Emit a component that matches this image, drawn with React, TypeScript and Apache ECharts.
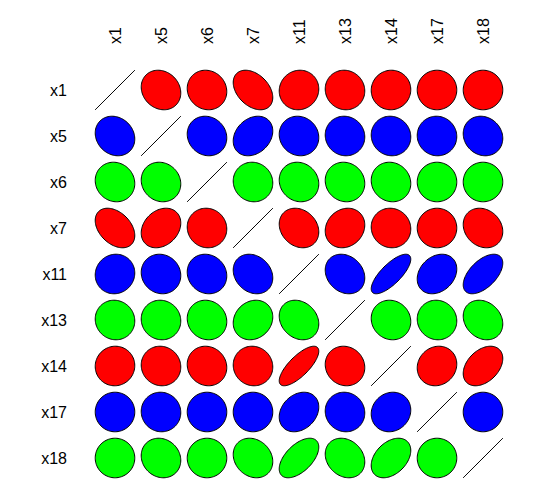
import React, { useEffect, useRef } from "react";
import * as echarts from "echarts";

const varNames = ["x1", "x5", "x6", "x7", "x11", "x13", "x14", "x17", "x18"];
const rowColors = ["#FF0000", "#0000FF", "#00FF00"];

// correlation matrix rows (symmetric)
const rowX1 = [1, -0.15, -0.08, -0.38, 0.05, -0.05, 0.02, 0.0, 0.0];
const rowX5 = [-0.15, 1, -0.1, 0.25, -0.08, -0.05, -0.05, -0.03, -0.12];
const rowX6 = [-0.08, -0.1, 1, -0.05, -0.1, -0.08, -0.08, 0.0, 0.0];
const rowX7 = [-0.38, 0.25, -0.05, 1, -0.2, 0.15, -0.05, 0.0, -0.18];
const rowX11 = [0.05, -0.08, -0.1, -0.2, 1, -0.2, 0.75, 0.25, 0.55];
const rowX13 = [-0.05, -0.05, -0.08, 0.15, -0.2, 1, -0.08, -0.05, -0.2];
const rowX14 = [0.02, -0.05, -0.08, -0.05, 0.75, -0.08, 1, 0.1, 0.38];
const rowX17 = [0.0, -0.03, 0.0, 0.0, 0.25, -0.05, 0.1, 1, 0.0];
const rowX18 = [0.0, -0.12, 0.0, -0.18, 0.55, -0.2, 0.38, 0.0, 1];

const corrRows = [rowX1, rowX5, rowX6, rowX7, rowX11, rowX13, rowX14, rowX17, rowX18];

export default function App() {
  const ref = useRef<HTMLDivElement>(null);
  useEffect(() => {
    if (!ref.current) return;
    const chart = echarts.init(ref.current, undefined, { renderer: "svg" });
    const data: number[][] = [];
    corrRows.forEach((row, i) => {
      row.forEach((r, j) => {
        data.push([j, i, r]);
      });
    });
    const font = "'Liberation Sans', Arial, sans-serif";
    chart.setOption({
      animation: false,
      backgroundColor: "#ffffff",
      grid: { left: 92, top: 67, width: 414, height: 414 },
      xAxis: {
        type: "category",
        data: varNames,
        position: "top",
        axisLine: { show: false },
        axisTick: { show: false },
        splitLine: { show: false },
        axisLabel: {
          rotate: -90,
          margin: 23,
          color: "#000",
          fontSize: 16,
          fontFamily: font,
        },
      },
      yAxis: {
        type: "category",
        data: varNames,
        inverse: true,
        axisLine: { show: false },
        axisTick: { show: false },
        splitLine: { show: false },
        axisLabel: {
          margin: 25,
          color: "#000",
          fontSize: 16,
          fontFamily: font,
        },
      },
      series: [
        {
          type: "custom",
          data,
          encode: { x: 0, y: 1 },
          renderItem: (params: any, api: any) => {
            const j = api.value(0);
            const i = api.value(1);
            const r = api.value(2);
            const c = api.coord([j, i]);
            const s = api.size([1, 1]);
            const d = Math.acos(Math.max(-1, Math.min(1, r)));
            const pts: number[][] = [];
            const N = 100;
            for (let k = 0; k <= N; k++) {
              const a = (2 * Math.PI * k) / N;
              const ex = 0.43 * Math.cos(a + d / 2);
              const ey = 0.43 * Math.cos(a - d / 2);
              pts.push([c[0] + ex * s[0], c[1] - ey * s[1]]);
            }
            return {
              type: "polygon",
              shape: { points: pts },
              style: {
                fill: rowColors[i % 3],
                stroke: "#000",
                lineWidth: 1,
              },
            };
          },
        },
      ],
    });
    return () => chart.dispose();
  }, []);
  return (
    <div
      ref={ref}
      style={{ position: "fixed", left: 0, top: 0, width: 551, height: 500 }}
    />
  );
}
